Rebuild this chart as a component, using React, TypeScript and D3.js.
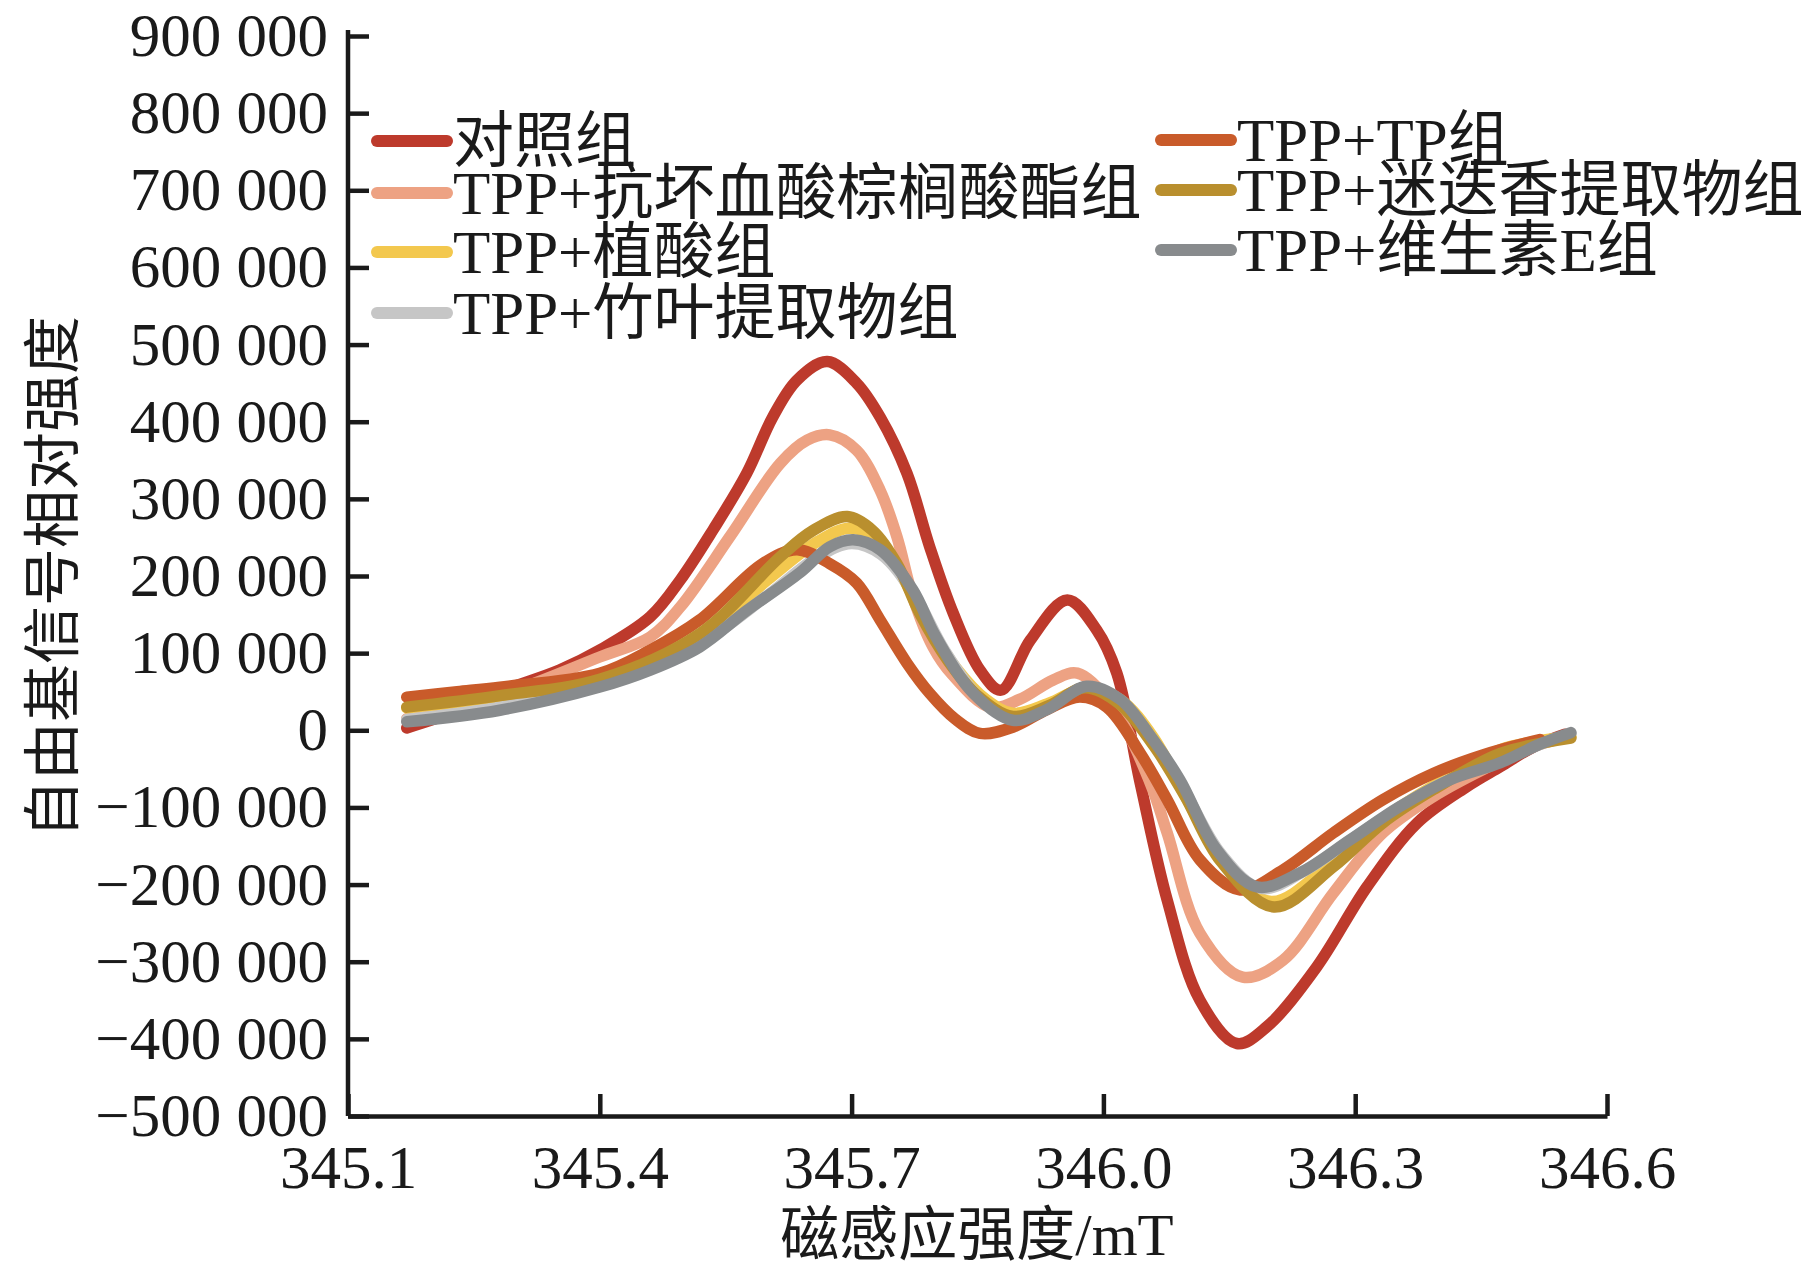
import * as d3 from 'd3'
import { useEffect, useRef } from 'react'

type Pt = [number, number];

// magnetic field (mT) vs relative radical signal intensity
const control: Pt[] = [
    [345.170, 3000], [345.230, 25000], [345.281, 50000], [345.352, 78000], [345.400, 104000],
    [345.460, 147000], [345.496, 195000], [345.535, 260000], [345.575, 333000], [345.606, 406000],
    [345.635, 454000], [345.671, 478000], [345.706, 450000], [345.734, 406000], [345.766, 333000],
    [345.793, 238000], [345.821, 152000], [345.853, 78000], [345.878, 52000], [345.913, 117000],
    [345.957, 169000], [345.992, 130000], [346.016, 74000], [346.044, -69000], [346.076, -220000],
    [346.115, -350000], [346.159, -406000], [346.195, -384000], [346.254, -307000], [346.314, -203000],
    [346.374, -120000], [346.433, -73000], [346.473, -47000], [346.515, -20000], [346.550, -5000],
];

const ascorbyl: Pt[] = [
    [345.170, 15000], [345.281, 45000], [345.400, 95000], [345.460, 121000], [345.496, 160000],
    [345.555, 251000], [345.615, 346000], [345.647, 376000], [345.674, 383000], [345.706, 363000],
    [345.734, 311000], [345.754, 251000], [345.773, 173000], [345.797, 108000], [345.820, 72000],
    [345.865, 30000], [345.900, 40000], [345.940, 65000], [345.969, 74000], [346.012, 30000],
    [346.056, -69000], [346.076, -133000], [346.115, -263000], [346.166, -320000], [346.214, -298000],
    [346.274, -211000], [346.333, -133000], [346.393, -86000], [346.452, -51000], [346.510, -22000],
    [346.555, -8000],
];

const phytic: Pt[] = [
    [345.170, 29000], [345.281, 43000], [345.400, 65000], [345.519, 121000], [345.600, 195000],
    [345.660, 245000], [345.698, 262000], [345.730, 248000], [345.760, 200000], [345.790, 140000],
    [345.825, 80000], [345.860, 40000], [345.892, 22000], [345.935, 35000], [345.980, 55000],
    [346.020, 40000], [346.060, -10000], [346.100, -90000], [346.145, -175000], [346.200, -222000],
    [346.274, -170000], [346.333, -115000], [346.393, -72000], [346.473, -25000], [346.557, -8000],
];

const bamboo: Pt[] = [
    [345.170, 14000], [345.281, 30000], [345.400, 58000], [345.519, 112000], [345.600, 175000],
    [345.660, 225000], [345.700, 242000], [345.735, 228000], [345.775, 175000], [345.810, 105000],
    [345.850, 45000], [345.892, 16000], [345.935, 30000], [345.980, 55000], [346.020, 38000],
    [346.060, -15000], [346.095, -75000], [346.140, -160000], [346.188, -205000], [346.240, -182000],
    [346.300, -138000], [346.360, -95000], [346.420, -60000], [346.490, -30000], [346.557, -5000],
];

const teaPoly: Pt[] = [
    [345.170, 43000], [345.230, 50000], [345.281, 56000], [345.400, 74000], [345.460, 104000],
    [345.519, 143000], [345.594, 216000], [345.635, 234000], [345.674, 216000], [345.706, 191000],
    [345.734, 143000], [345.766, 87000], [345.793, 48000], [345.823, 15000], [345.853, -4000],
    [345.892, 4000], [345.933, 27000], [345.972, 43000], [346.004, 30000], [346.044, -30000],
    [346.076, -90000], [346.115, -168000], [346.163, -207000], [346.214, -181000], [346.274, -133000],
    [346.333, -90000], [346.393, -56000], [346.452, -32000], [346.520, -12000],
];

const rosemary: Pt[] = [
    [345.170, 30000], [345.281, 45000], [345.400, 66000], [345.519, 125000], [345.615, 225000],
    [345.654, 259000], [345.695, 277000], [345.725, 259000], [345.754, 216000], [345.781, 152000],
    [345.815, 90000], [345.850, 45000], [345.892, 18000], [345.935, 32000], [345.978, 55000],
    [346.018, 35000], [346.060, -20000], [346.097, -85000], [346.140, -170000], [346.203, -229000],
    [346.274, -177000], [346.333, -120000], [346.393, -77000], [346.473, -30000], [346.557, -10000],
];

const vitaminE: Pt[] = [
    [345.170, 11000], [345.281, 26000], [345.400, 56000], [345.460, 78000], [345.519, 108000],
    [345.575, 155000], [345.639, 205000], [345.674, 238000], [345.702, 247000], [345.734, 234000],
    [345.773, 182000], [345.800, 122000], [345.845, 48000], [345.892, 13000], [345.933, 27000],
    [345.980, 57000], [346.020, 40000], [346.059, -12000], [346.091, -64000], [346.135, -155000],
    [346.183, -203000], [346.234, -185000], [346.294, -142000], [346.353, -99000], [346.413, -64000],
    [346.473, -42000], [346.520, -18000], [346.557, -3000],
];

const seriesNames = [
    '对照组', 'TPP+抗坏血酸棕榈酸酯组', 'TPP+植酸组', 'TPP+竹叶提取物组',
    'TPP+TP组', 'TPP+迷迭香提取物组', 'TPP+维生素E组',
];
const seriesColors = ['#bd3a2c', '#eda283', '#f3c84e', '#c6c6c6', '#c95b2a', '#b98f2e', '#888b8d'];
const seriesData = [control, ascorbyl, phytic, bamboo, teaPoly, rosemary, vitaminE];

const xTicks = [345.1, 345.4, 345.7, 346.0, 346.3, 346.6];
const yTicks = [-500000, -400000, -300000, -200000, -100000, 0, 100000, 200000, 300000, 400000, 500000, 600000, 700000, 800000, 900000];

const W = 1818, H = 1288;
const FONT = '"Liberation Serif", "Times New Roman", "Noto Sans CJK SC", serif';

const fmtY = (v: number) => {
    const a = Math.abs(v);
    const s = a >= 1000 ? `${Math.floor(a / 1000)} ${String(a % 1000).padStart(3, '0')}` : String(a);
    return v < 0 ? '−' + s : s;
};

const drawChart = (el: SVGSVGElement) => {
    const svg = d3.select(el);
    svg.selectAll('*').remove();

    const left = 348, right = 1607, top = 36, bottom = 1116;

    const x = d3.scaleLinear().domain([345.1, 346.6]).range([left, right]);
    const y = d3.scaleLinear().domain([-500000, 900000]).range([bottom, top]);

    // curves
    const line = d3.line<Pt>()
        .x(d => x(d[0]))
        .y(d => y(d[1]))
        .curve(d3.curveCatmullRom.alpha(0.5));

    seriesData.forEach((data, i) => {
        svg.append('path')
            .datum(data)
            .attr('fill', 'none')
            .attr('stroke', seriesColors[i])
            .attr('stroke-width', 11.5)
            .attr('stroke-linecap', 'round')
            .attr('stroke-linejoin', 'round')
            .attr('d', line);
    });

    // axes
    const yAxis = svg.append('g')
        .attr('transform', `translate(${left},0)`)
        .call(d3.axisLeft(y).tickValues(yTicks).tickSizeInner(-21).tickSizeOuter(0).tickPadding(20).tickFormat(d => fmtY(Number(d))));

    const xAxis = svg.append('g')
        .attr('transform', `translate(0,${bottom})`)
        .call(d3.axisBottom(x).tickValues(xTicks).tickSizeInner(-22).tickSizeOuter(0).tickPadding(29).tickFormat(d3.format('.1f')));

    [yAxis, xAxis].forEach(g => {
        g.select('.domain').attr('stroke', '#1a1a1a').attr('stroke-width', 4.5);
        g.selectAll('.tick line').attr('stroke', '#1a1a1a').attr('stroke-width', 4.5);
        g.selectAll('.tick text')
            .attr('fill', '#1a1a1a')
            .attr('font-family', FONT)
            .attr('font-size', 61);
    });
    yAxis.select('.domain').attr('d', `M0,${top - 6}V${bottom}`);

    // axis titles
    svg.append('text')
        .attr('x', 977)
        .attr('y', 1255)
        .attr('text-anchor', 'middle')
        .attr('font-family', FONT)
        .attr('font-size', 59)
        .attr('fill', '#1a1a1a')
        .text('磁感应强度/mT');

    svg.append('text')
        .attr('transform', `translate(53,577) rotate(-90)`)
        .attr('text-anchor', 'middle')
        .attr('dominant-baseline', 'central')
        .attr('font-family', FONT)
        .attr('font-size', 58)
        .attr('fill', '#1a1a1a')
        .text('自由基信号相对强度');

    // legend
    const legendPos = [
        { x: 377, y: 141 }, { x: 377, y: 193 }, { x: 377, y: 252 }, { x: 377, y: 313 },
        { x: 1161, y: 140 }, { x: 1161, y: 190 }, { x: 1161, y: 250 },
    ];
    seriesNames.forEach((name, i) => {
        const p = legendPos[i];
        const g = svg.append('g').attr('transform', `translate(${p.x},${p.y})`);
        g.append('line')
            .attr('x1', 0).attr('x2', 70)
            .attr('stroke', seriesColors[i])
            .attr('stroke-width', 12)
            .attr('stroke-linecap', 'round');
        g.append('text')
            .attr('x', 76)
            .attr('y', 21)
            .attr('font-family', FONT)
            .attr('font-size', 61)
            .attr('fill', '#1a1a1a')
            .text(name);
    });
};

const App = () => {
    const ref = useRef<SVGSVGElement>(null);
    useEffect(() => {
        if (ref.current) drawChart(ref.current);
    }, []);
    return (
        <svg ref={ref} width={W} height={H} style={{ position: 'absolute', left: 0, top: 0, background: '#fff' }} />
    );
};

export default App;
